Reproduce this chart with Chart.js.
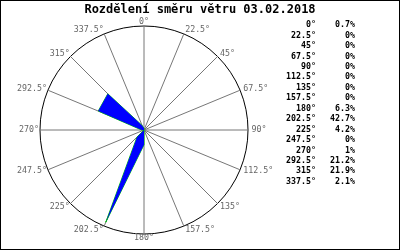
<!DOCTYPE html>
<html>
<head>
<meta charset="utf-8">
<script src="https://cdn.jsdelivr.net/npm/chart.js@4.4.1/dist/chart.umd.min.js"></script>
<style>
    body { margin: 0; background: #fff; }
</style>
</head>
<body>
<canvas id="chart_wind" width="400" height="250"></canvas>
<script>
const TITLE = "Rozdělení směru větru 03.02.2018";
const DIRECTIONS = [0, 22.5, 45, 67.5, 90, 112.5, 135, 157.5, 180, 202.5, 225, 247.5, 270, 292.5, 315, 337.5];
const SHARES = [0.7, 0, 0, 0, 0, 0, 0, 0, 6.3, 42.7, 4.2, 0, 1, 21.2, 21.9, 2.1];
const SCALE_MAX = 44.5;

const MONO = "'DejaVu Sans Mono', 'Liberation Mono', monospace";

const labels = DIRECTIONS.map((d) => d + "°");

// titulek, popisky smeru, tabulka vpravo a ramecek
const textPlugin = {
    id: "windText",
    beforeDraw: (chart) => {
        const ctx = chart.ctx;
        ctx.save();
        ctx.fillStyle = "#fff";
        ctx.fillRect(0, 0, chart.width, chart.height);
        ctx.restore();
    },
    afterDraw: (chart) => {
        const ctx = chart.ctx;
        const scale = chart.scales.r;
        ctx.save();

        ctx.fillStyle = "#000";
        ctx.font = "bold 12px " + MONO;
        ctx.textAlign = "center";
        ctx.textBaseline = "middle";
        ctx.fillText(TITLE, 200, 10);

        ctx.font = "8.3px " + MONO;
        ctx.fillStyle = "#666";
        labels.forEach((label, i) => {
            const pos = scale.getPointPosition(i, scale.drawingArea);
            const a = (DIRECTIONS[i] * Math.PI) / 180;
            const s = Math.sin(a);
            const c = Math.cos(a);
            let align = "center";
            if (s > 0.1) align = "left";
            if (s < -0.1) align = "right";
            const dx = s > 0 ? 3.5 * s : 1 * s;
            const dy = -4 * c;
            ctx.textAlign = align;
            ctx.fillText(label, pos.x + dx, pos.y + dy);
        });

        ctx.fillStyle = "#000";
        ctx.font = "bold 8.3px " + MONO;
        labels.forEach((label, i) => {
            const y = 25 + i * 10.45;
            ctx.textAlign = "right";
            ctx.fillText(label, 316, y);
            ctx.fillText(SHARES[i] + "%", 355, y);
        });

        ctx.strokeStyle = "#000";
        ctx.lineWidth = 1;
        ctx.strokeRect(0.5, 0.5, chart.width - 1, chart.height - 1);
        ctx.restore();
    },
};

const ctx = document.getElementById("chart_wind");
const windChart = new Chart(ctx, {
    type: "radar",
    data: {
        labels: labels,
        datasets: [
            {
                label: "obrys",
                data: SHARES,
                borderColor: "#00cc00",
                borderWidth: 1,
                fill: false,
                pointRadius: 0,
                order: 1,
            },
            {
                label: "podil",
                data: SHARES,
                backgroundColor: "#0000ff",
                borderWidth: 0,
                fill: "origin",
                pointRadius: 0,
                order: 0,
            },
        ],
    },
    options: {
        responsive: false,
        animation: false,
        layout: {
            padding: { left: 40, top: 26, right: 152, bottom: 16 },
        },
        plugins: {
            legend: { display: false },
            tooltip: { enabled: false },
        },
        scales: {
            r: {
                min: 0,
                max: SCALE_MAX,
                ticks: { display: false, stepSize: SCALE_MAX },
                pointLabels: { display: false },
                grid: { color: "#000", lineWidth: 1, circular: true },
                angleLines: { color: "#777", lineWidth: 1 },
            },
        },
    },
    plugins: [textPlugin],
});
</script>
</body>
</html>
